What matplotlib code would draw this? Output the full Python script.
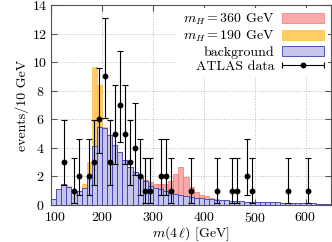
import numpy as np
import matplotlib
matplotlib.use("Agg")
import matplotlib.pyplot as plt
import matplotlib.transforms as mtransforms
from matplotlib.legend_handler import HandlerErrorbar

plt.rcParams['font.family'] = 'serif'
plt.rcParams['font.serif'] = ['cmr10']
plt.rcParams['mathtext.fontset'] = 'cm'
plt.rcParams['axes.formatter.use_mathtext'] = True
plt.rcParams['font.size'] = 10

# 10 GeV bins from 100 to 650 GeV
bin_lo = np.arange(100, 650, 10)

background = [0.40, 1.10, 1.45, 1.25, 1.00, 0.95, 1.17, 2.03, 4.13, 5.48,
              5.37, 4.87, 4.17, 3.68, 3.12, 2.68, 2.32, 1.95, 1.65, 1.35,
              1.20, 1.12, 0.97, 0.85, 0.75, 0.68, 0.62, 0.57, 0.52, 0.48,
              0.45, 0.41, 0.38, 0.35, 0.32, 0.30, 0.28, 0.26, 0.24, 0.23,
              0.22, 0.21, 0.20, 0.19, 0.18, 0.17, 0.16, 0.15, 0.14, 0.13,
              0.12, 0.11, 0.10, 0.10, 0.09]

# signal + background totals where they differ from background
sig190_total = {130: 1.33, 160: 1.45, 170: 3.00, 180: 9.63, 190: 8.40, 200: 5.45}
sig360_total = {270: 2.12, 280: 1.75, 290: 1.60, 300: 1.50, 310: 1.45, 320: 1.50,
                330: 1.65, 340: 2.20, 350: 2.68, 360: 1.95, 370: 1.25, 380: 0.90,
                390: 0.72, 400: 0.60, 410: 0.50, 420: 0.42}

# ATLAS data (bin centre, events)
data_x = [125, 145, 155, 175, 185, 195, 205, 215, 225, 235, 245, 255, 265,
          275, 285, 295, 315, 325, 335, 375, 425, 455, 465, 485, 495, 565, 605]
data_n = [3, 1, 2, 2, 3, 6, 9, 3, 5, 7, 5, 3, 4,
          2, 1, 1, 2, 2, 1, 1, 1, 1, 1, 2, 1, 1, 1]

# 68% Poisson (Garwood) interval per count
poisson_lo = {1: 0.173, 2: 0.708, 3: 1.367, 4: 2.086, 5: 2.840, 6: 3.620, 7: 4.419, 9: 6.057}
poisson_hi = {1: 3.300, 2: 4.638, 3: 5.918, 4: 7.163, 5: 8.382, 6: 9.584, 7: 10.77, 9: 13.11}

bkg = np.array(background)
h190 = np.array([sig190_total.get(b, v) for b, v in zip(bin_lo, bkg)])
h360 = np.array([sig360_total.get(b, v) for b, v in zip(bin_lo, bkg)])
n = np.array(data_n)
yerr = [n - np.array([poisson_lo[k] for k in data_n]),
        np.array([poisson_hi[k] for k in data_n]) - n]

fig = plt.figure(figsize=(3.32, 2.42), dpi=100)
ax = fig.add_axes([0.154, 0.153, 0.843, 0.826])

ax.bar(bin_lo, h360, width=10, align='edge', color='#f8aaaa',
       edgecolor='#ee7777', linewidth=0.5, label=r'$m_H = 360$ GeV')
ax.bar(bin_lo, h190, width=10, align='edge', color='#ffcc66',
       edgecolor='#ffbb44', linewidth=0.5, label=r'$m_H = 190$ GeV')
ax.bar(bin_lo, bkg, width=10, align='edge', color='#c6c6ec',
       edgecolor='#3a3ab4', linewidth=0.6, label='background')

ax.errorbar(data_x, n, yerr=yerr, fmt='o', color='black', ms=3.2,
            elinewidth=0.8, capsize=2, capthick=0.8)
# dummy container so the legend shows a horizontal error bar
leg_err = ax.errorbar([np.nan], [np.nan], xerr=[1], fmt='o', color='black',
                      ms=3.2, elinewidth=0.8, capsize=2, capthick=0.8,
                      label='ATLAS data')

ax.set_xlim(100, 650)
ax.set_ylim(0, 14)
ax.set_xticks([100, 200, 300, 400, 500, 600])
ax.set_yticks(range(0, 15, 2))
ax.set_xlabel(r'$m(4\,\ell)$ [GeV]', labelpad=0)
ax.set_ylabel('events/10 GeV', labelpad=2)
ax.grid(True, color='#bbbbbb', linestyle=':', linewidth=0.7)
ax.set_axisbelow(True)
ax.tick_params(direction='in', top=True, right=True, length=4,
               color='#555555')
ax.tick_params(axis='x', pad=4)
ax.tick_params(axis='y', pad=8)
for lab in ax.get_yticklabels():
    lab.set_horizontalalignment('center')
# nudge the first x label off the corner
first = ax.get_xticklabels()[0]
first.set_transform(first.get_transform() +
                    mtransforms.ScaledTranslation(4 / 100, 0, fig.dpi_scale_trans))
for s in ax.spines.values():
    s.set_color('#555555')
    s.set_linewidth(0.8)

handles, labels = ax.get_legend_handles_labels()
leg = ax.legend(handles, labels, loc='upper right', markerfirst=False,
                handlelength=3.0, handleheight=0.7, numpoints=1,
                frameon=True, fancybox=False, framealpha=1,
                edgecolor='none', facecolor='white', borderaxespad=0.2,
                borderpad=0.3, handletextpad=0.6, labelspacing=0.12,
                handler_map={leg_err: HandlerErrorbar(xerr_size=1.5)})

fig.savefig('out.png', dpi=100)
